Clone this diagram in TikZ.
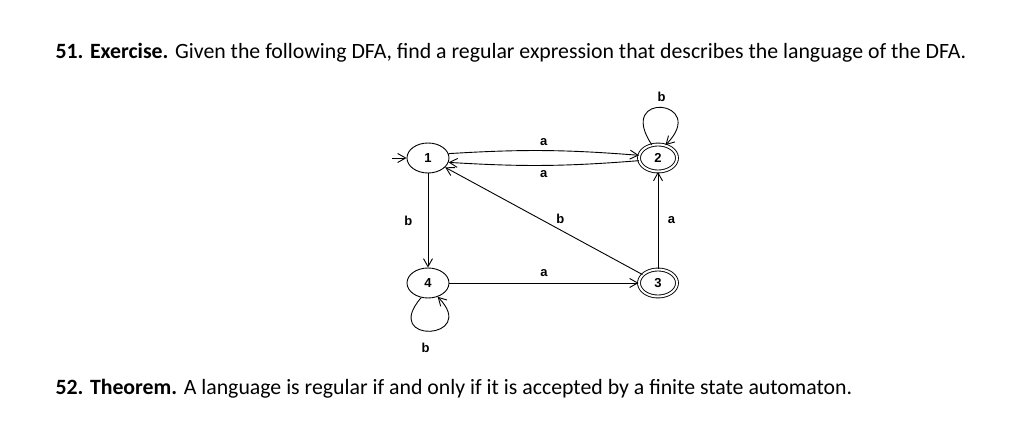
\documentclass[tikz,border=0pt]{standalone}
\usepackage{fontspec}
\setmainfont{Carlito}
\newfontfamily\lab{Liberation Sans}
\usetikzlibrary{arrows.meta,shapes.geometric}
\begin{document}
\begin{tikzpicture}[x=1pt,y=-1pt,
  st/.style={draw,line width=0.9pt,ellipse,minimum width=42pt,minimum height=30pt,inner sep=0pt,font=\lab\bfseries\fontsize{13}{13}\selectfont},
  acc/.style={st,double,double distance=2pt,minimum width=38pt,minimum height=27pt},
  ed/.style={draw,line width=0.9pt,-{Straight Barb[length=8pt,width=9pt]}},
  lb/.style={font=\lab\bfseries\fontsize{13}{13}\selectfont}]
\useasboundingbox (0,0) rectangle (1021,422);
\node[anchor=base west,font=\fontsize{21.8}{24}\selectfont] (t1) at (52,59) {\textbf{51. Exercise.} Given the following DFA, find a regular expression that describes the language of the DFA.};
\node[anchor=base west,font=\fontsize{21.8}{24}\selectfont] (t2) at (52,395) {\textbf{52. Theorem.} A language is regular if and only if it is accepted by a finite state automaton.};
\node[st] (n1) at (428,158) {1};
\node[acc] (n2) at (658,158) {2};
\node[st] (n4) at (428,283) {4};
\node[acc] (n3) at (658,283) {3};
\coordinate (i) at (392,158);
\draw[ed] (i) -- (n1);
\draw[ed] (n1.12) to[bend left=4] node[lb,above=1pt] {a} (n2.172);
\draw[ed] (n2.188) to[bend left=4] node[lb,below=1pt] {a} (n1.-12);
\draw[ed] (n3) -- node[lb,pos=0.45,above right=-1pt] {b} (n1);
\draw[ed] (n1) -- node[lb,left=12pt] {b} (n4);
\draw[ed] (n4) -- node[lb,above=3pt] {a} (n3);
\draw[ed] (n3) -- node[lb,right=6pt] {a} (n2);
\draw[ed] (n2.115) .. controls (615,90) and (710,100) .. node[lb,above=2pt,pos=0.5] {b} (n2.60);
\draw[ed] (n4.-115) .. controls (380,345) and (480,340) .. node[lb,below=8pt,pos=0.45] {b} (n4.-55);
\end{tikzpicture}
\end{document}
